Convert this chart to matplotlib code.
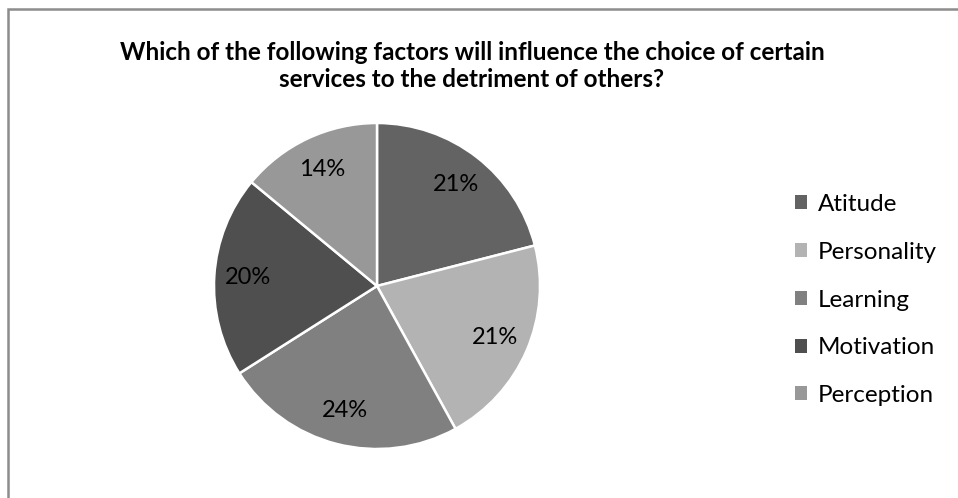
import matplotlib
matplotlib.use('Agg')
import matplotlib.pyplot as plt
from matplotlib.patches import Patch, Rectangle

plt.rcParams['font.family'] = ['Lato', 'DejaVu Sans']

# Data
labels = ['Atitude', 'Personality', 'Learning', 'Motivation', 'Perception']
shares = [21, 21, 24, 20, 14]
colors = ['#636363', '#b3b3b3', '#808080', '#4f4f4f', '#989898']
title = ('Which of the following factors will influence the choice of certain\n'
         'services to the detriment of others?')

W, H = 958, 498
fig = plt.figure(figsize=(W / 100, H / 100), dpi=100)

# outer chart frame (runs off right/bottom edges like the source)
fig.add_artist(Rectangle((7.5 / W, -0.1), 1.2, 1.1 - 9.5 / H,
                         transform=fig.transFigure, fill=False,
                         edgecolor='#8c8c8c', linewidth=1.8))

fig.text(472 / W, 1 - 66 / H, title, ha='center', va='center',
         fontsize=17.5, fontweight='bold', linespacing=1.2)

# pie axes: centre ~(377, 286), radius ~163 px
ax = fig.add_axes([214 / W, (H - 286 - 163) / H, 326 / W, 326 / H])
wedges, texts, autotexts = ax.pie(
    shares, colors=colors, startangle=90, counterclock=False,
    autopct='%d%%', pctdistance=0.79,
    wedgeprops=dict(edgecolor='white', linewidth=1.8),
    textprops=dict(fontsize=17, color='black'))
ax.set_xlim(-1, 1)
ax.set_ylim(-1, 1)
ax.set_aspect('equal')

handles = [Patch(facecolor=c, edgecolor='none') for c in colors]
fig.legend(handles, labels, loc='center left',
           bbox_to_anchor=(785 / W, 1 - 300 / H), frameon=False,
           fontsize=17.5, handlelength=0.5, handleheight=0.5,
           handletextpad=0.45, labelspacing=1.1, borderaxespad=0)

fig.savefig('out.png', dpi=100)
